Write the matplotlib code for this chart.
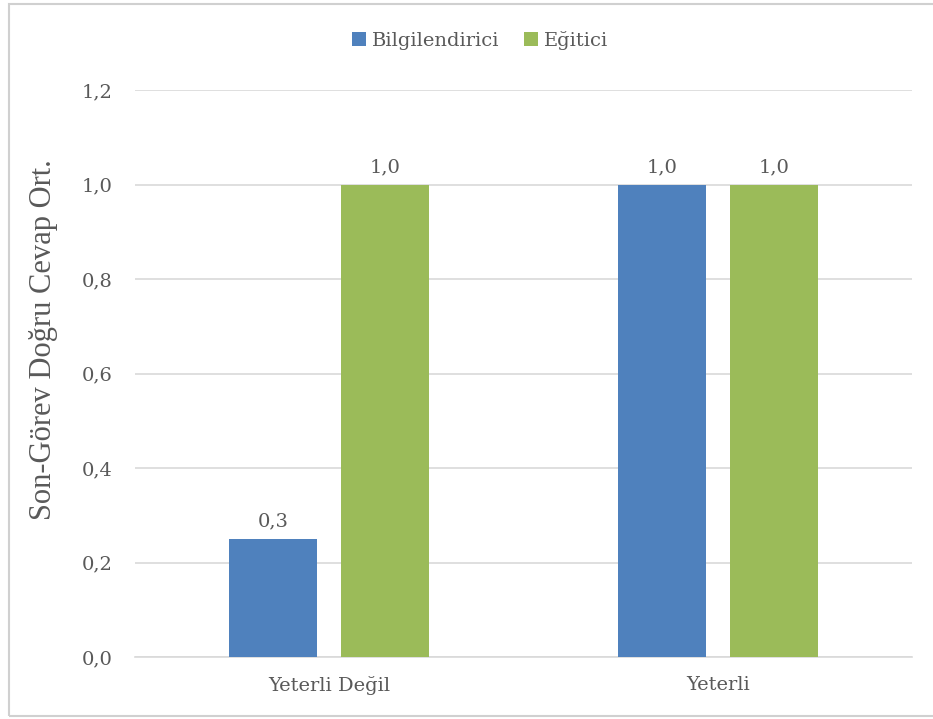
import matplotlib
matplotlib.use("Agg")
import matplotlib.pyplot as plt
import numpy as np
from decimal import Decimal, ROUND_HALF_UP
from matplotlib.patches import Rectangle

categories = ["Yeterli Değil", "Yeterli"]
series_names = ["Bilgilendirici", "Eğitici"]
bilgilendirici = [0.25, 1.0]
egitici = [1.0, 1.0]
yticks = [0.0, 0.2, 0.4, 0.6, 0.8, 1.0, 1.2]
ylabel = "Son-Görev Doğru Cevap Ort."
colors = ["#4F81BD", "#9BBB59"]

W, H = 933, 719
fig = plt.figure(figsize=(W / 100, H / 100), dpi=100)
font = "DejaVu Serif"
tc = "#595959"

ax = fig.add_axes([135 / W, 1 - 657 / H, (912 - 135) / W, (657 - 90) / H])
x = np.arange(len(categories))
bw = 0.227
off = 0.144
b1 = ax.bar(x - off, bilgilendirici, bw, color=colors[0], label=series_names[0], zorder=3)
b2 = ax.bar(x + off, egitici, bw, color=colors[1], label=series_names[1], zorder=3)

def fmt(v):
    d = Decimal(str(v)).quantize(Decimal("0.1"), rounding=ROUND_HALF_UP)
    return str(d).replace(".", ",")

for bars, vals in ((b1, bilgilendirici), (b2, egitici)):
    for r, v in zip(bars, vals):
        ax.annotate(fmt(v), (r.get_x() + r.get_width() / 2, v), xytext=(0, 6),
                    textcoords="offset points", ha="center", va="bottom",
                    fontsize=14, family=font, color=tc)

ax.set_xlim(-0.5, 1.5)
ax.set_ylim(0, 1.2)
ax.set_yticks(yticks)
ax.set_yticklabels([fmt(v) for v in yticks], family=font, fontsize=14, color=tc)
ax.set_xticks(x)
ax.set_xticklabels(categories, family=font, fontsize=14, color=tc)
ax.tick_params(axis="both", length=0)
ax.tick_params(axis="y", pad=16)
ax.tick_params(axis="x", pad=14)
ax.yaxis.grid(True, color="#D9D9D9", linewidth=1.2, zorder=0)
for s in ["top", "right", "left"]:
    ax.spines[s].set_visible(False)
ax.spines["bottom"].set_color("#D9D9D9")
ax.spines["bottom"].set_linewidth(1.2)
ax.set_ylabel(ylabel, family="Liberation Serif", fontsize=22, color=tc)
ax.yaxis.set_label_coords((58 - 135) / 777, (657 - 340) / 567)

leg = fig.legend(handles=[b1, b2], labels=series_names, loc="center",
                 bbox_to_anchor=(480 / W, 1 - 40 / H), ncol=2, frameon=False,
                 prop={"family": font, "size": 14}, handlelength=0.7, handleheight=0.7,
                 handletextpad=0.3, columnspacing=1.3)
for t in leg.get_texts():
    t.set_color(tc)

fig.patches.append(Rectangle((9 / W, 3 / H), 1.2, (715 - 3) / H, transform=fig.transFigure,
                             fill=False, edgecolor="#D0D0D0", linewidth=1.5))

fig.savefig("out.png", dpi=100)
